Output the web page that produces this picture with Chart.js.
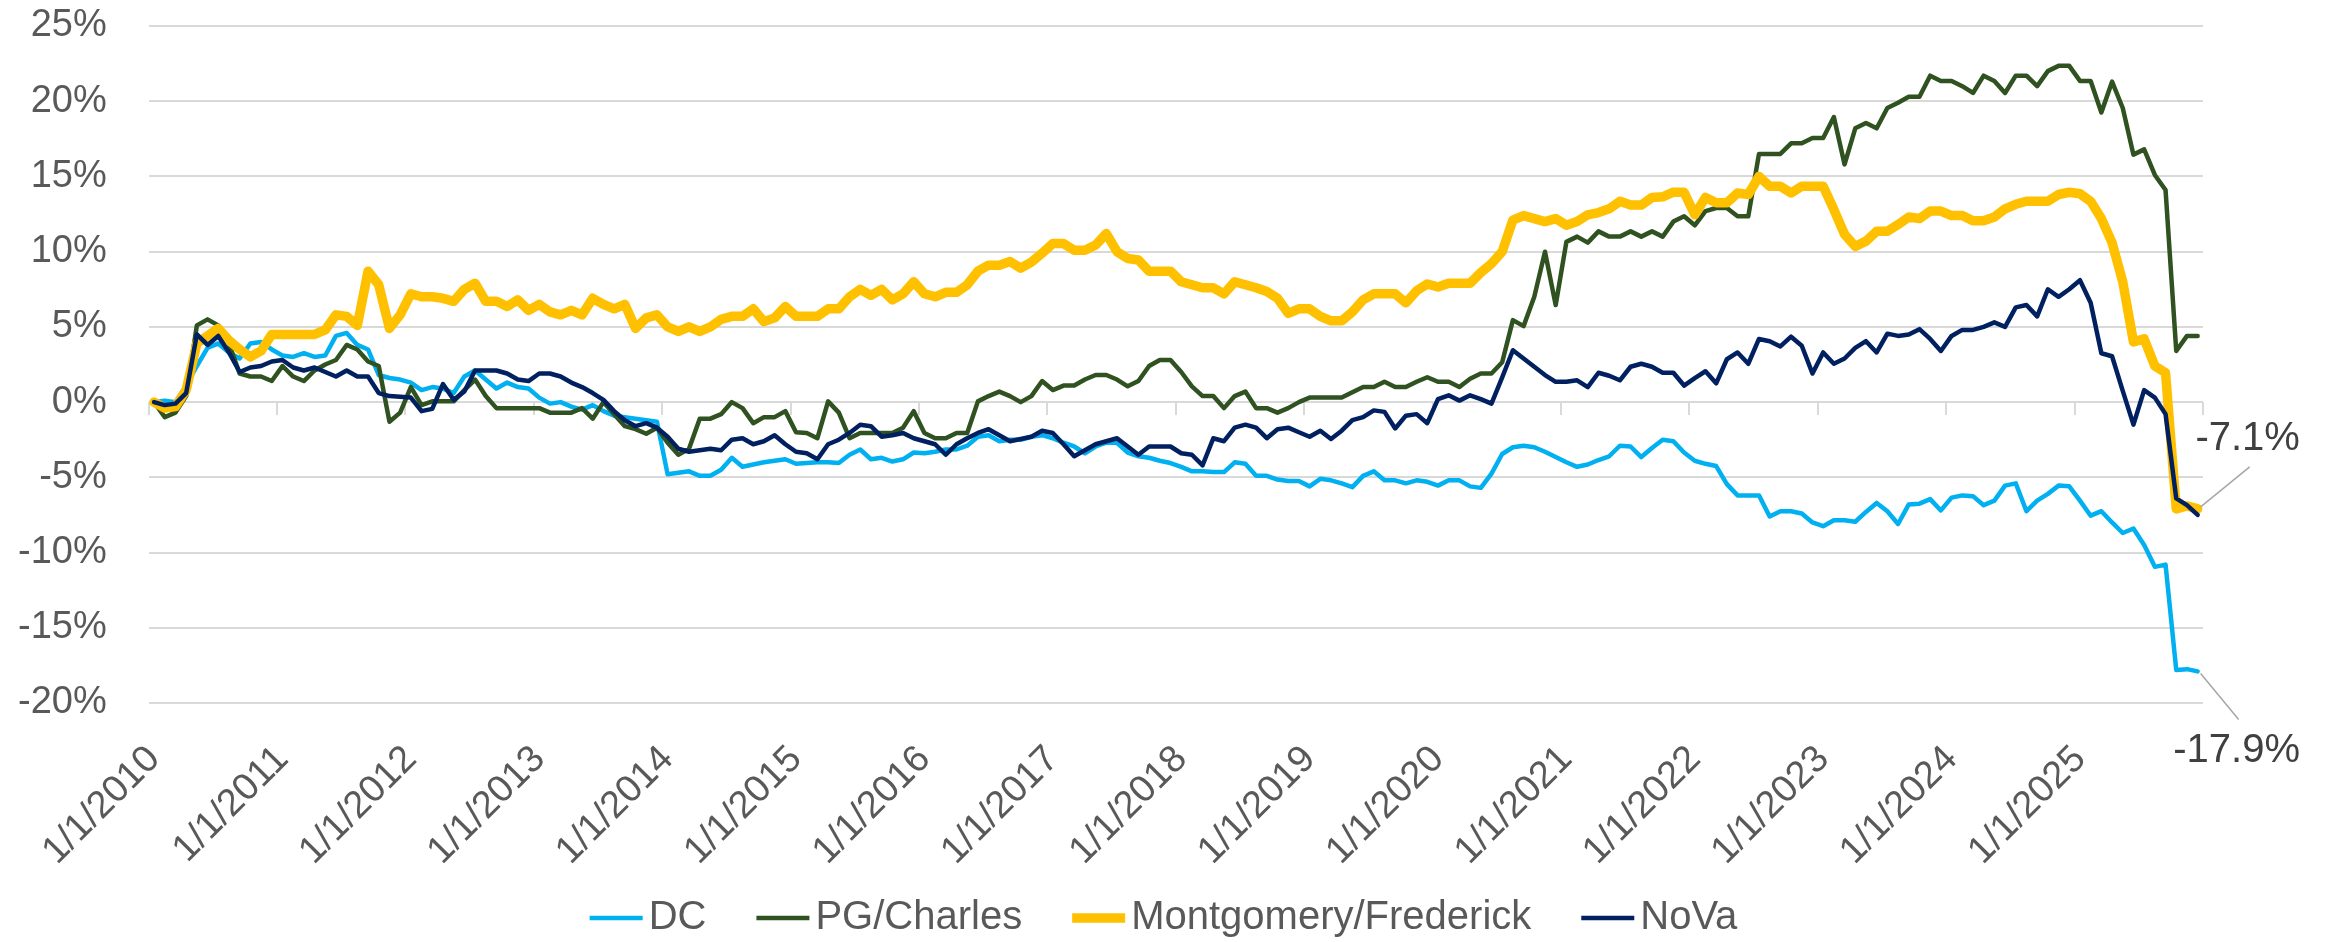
<!DOCTYPE html>
<html>
<head>
<meta charset="utf-8">
<script src="https://cdn.jsdelivr.net/npm/chart.js@4.4.1/dist/chart.umd.min.js"></script>
<style>
  body { margin: 0; background: #fff; }
</style>
</head>
<body>
<canvas id="chart" width="2327" height="942"></canvas>
<script>
// monthly % change since Jan 2010, one row per year
const years = [2010, 2011, 2012, 2013, 2014, 2015, 2016, 2017, 2018, 2019, 2020, 2021, 2022, 2023, 2024, 2025];

const dc = [
  0, 0.1, 0.0, 1.1, 2.4, 3.6, 3.9, 3.3, 2.9, 3.9, 4.0, 3.5,
  3.1, 3.0, 3.25, 3.0, 3.1, 4.4, 4.6, 3.8, 3.5, 1.8, 1.6, 1.5,
  1.3, 0.8, 1.0, 0.9, 0.6, 1.7, 2.1, 1.5, 0.9, 1.3, 1.0, 0.9,
  0.3, -0.1, 0.0, -0.3, -0.5, -0.2, -0.6, -0.9, -1.0, -1.1, -1.2, -1.3,
  -4.8, -4.7, -4.6, -4.9, -4.9, -4.5, -3.7, -4.3, -4.15, -4.0, -3.9, -3.8,
  -4.1, -4.05, -4.0, -4.0, -4.05, -3.5, -3.15, -3.8, -3.7, -3.95, -3.8, -3.35,
  -3.4, -3.3, -3.15, -3.15, -2.9, -2.3, -2.2, -2.6, -2.5, -2.5, -2.3, -2.2,
  -2.4, -2.7, -2.95, -3.4, -2.95, -2.7, -2.7, -3.35, -3.6, -3.7, -3.9, -4.05,
  -4.3, -4.6, -4.6, -4.65, -4.65, -4.0, -4.1, -4.9, -4.9, -5.15, -5.25, -5.25,
  -5.6, -5.1, -5.2, -5.4, -5.65, -4.9, -4.6, -5.2, -5.2, -5.4, -5.2, -5.3,
  -5.55, -5.2, -5.2, -5.6, -5.7, -4.75, -3.45, -3.0, -2.9, -3.0, -3.3, -3.65,
  -4.0, -4.3, -4.15, -3.85, -3.6, -2.9, -2.95, -3.65, -3.05, -2.5, -2.6, -3.35,
  -3.9, -4.1, -4.25, -5.45, -6.2, -6.2, -6.2, -7.6, -7.25, -7.25, -7.4, -8.0,
  -8.25, -7.85, -7.85, -7.95, -7.3, -6.7, -7.25, -8.1, -6.8, -6.75, -6.45, -7.2,
  -6.35, -6.2, -6.25, -6.85, -6.55, -5.55, -5.4, -7.25, -6.55, -6.1, -5.55, -5.6,
  -6.55, -7.55, -7.25, -8.0, -8.7, -8.4, -9.5, -10.95, -10.8, -17.8, -17.75, -17.9
];

const pgCharles = [
  0, -1.0, -0.7, 0.4, 5.1, 5.5, 5.1, 3.9, 1.9, 1.7, 1.7, 1.4,
  2.4, 1.7, 1.4, 2.1, 2.5, 2.8, 3.8, 3.5, 2.7, 2.4, -1.3, -0.7,
  1.0, -0.2, 0.05, 0.05, 0.05, 0.8, 1.5, 0.4, -0.4, -0.4, -0.4, -0.4,
  -0.4, -0.7, -0.7, -0.7, -0.4, -1.1, 0.0, -0.8, -1.6, -1.8, -2.1, -1.7,
  -2.7, -3.5, -3.1, -1.1, -1.1, -0.8, 0.0, -0.4, -1.4, -1.0, -1.0, -0.6,
  -2.0, -2.05, -2.4, 0.05, -0.7, -2.4, -2.05, -2.05, -2.05, -2.05, -1.7, -0.6,
  -2.05, -2.4, -2.4, -2.05, -2.05, 0.05, 0.4, 0.7, 0.4, 0.0, 0.4, 1.4,
  0.8, 1.1, 1.1, 1.5, 1.8, 1.8, 1.5, 1.05, 1.4, 2.4, 2.8, 2.8,
  2.0, 1.05, 0.4, 0.4, -0.4, 0.4, 0.7, -0.4, -0.4, -0.7, -0.4, 0.0,
  0.3, 0.3, 0.3, 0.3, 0.65, 1.0, 1.0, 1.35, 1.0, 1.0, 1.35, 1.65,
  1.35, 1.35, 1.0, 1.55, 1.9, 1.9, 2.65, 5.45, 5.05, 7.0, 10.0, 6.45,
  10.65, 11.0, 10.6, 11.35, 11.0, 11.0, 11.35, 11.0, 11.35, 11.0, 12.0, 12.35,
  11.75, 12.7, 12.9, 12.9, 12.35, 12.35, 16.5, 16.5, 16.5, 17.2, 17.2, 17.55,
  17.55, 18.95, 15.8, 18.2, 18.55, 18.2, 19.55, 19.9, 20.3, 20.3, 21.7, 21.35,
  21.35, 21.0, 20.55, 21.7, 21.35, 20.55, 21.7, 21.7, 21.0, 22.0, 22.35, 22.35,
  21.35, 21.35, 19.25, 21.3, 19.55, 16.45, 16.8, 15.1, 14.1, 3.4, 4.4, 4.4
];

const montFred = [
  0.0, -0.4, -0.3, 0.8, 3.9, 4.4, 4.9, 4.1, 3.5, 3.0, 3.4, 4.5,
  4.5, 4.5, 4.5, 4.5, 4.8, 5.8, 5.7, 5.1, 8.7, 7.8, 4.9, 5.8,
  7.2, 7.0, 7.0, 6.9, 6.7, 7.5, 7.9, 6.7, 6.7, 6.35, 6.8, 6.1,
  6.5, 6.0, 5.8, 6.1, 5.8, 6.9, 6.5, 6.2, 6.5, 4.9, 5.6, 5.8,
  5.0, 4.7, 5.0, 4.7, 5.0, 5.5, 5.7, 5.7, 6.2, 5.35, 5.6, 6.35,
  5.7, 5.7, 5.7, 6.2, 6.2, 7.0, 7.5, 7.1, 7.5, 6.8, 7.2, 8.0,
  7.2, 7.0, 7.3, 7.3, 7.8, 8.7, 9.1, 9.1, 9.35, 8.9, 9.3, 9.9,
  10.55, 10.55, 10.1, 10.1, 10.45, 11.2, 10.0, 9.55, 9.45, 8.7, 8.7, 8.7,
  8.0, 7.8, 7.6, 7.6, 7.2, 8.0, 7.8, 7.6, 7.35, 6.9, 5.9, 6.2,
  6.2, 5.7, 5.4, 5.4, 6.0, 6.8, 7.2, 7.2, 7.2, 6.6, 7.4, 7.85,
  7.65, 7.9, 7.9, 7.9, 8.6, 9.2, 10.0, 12.1, 12.4, 12.2, 12.0, 12.2,
  11.75, 12.0, 12.45, 12.6, 12.85, 13.35, 13.1, 13.1, 13.6, 13.65, 13.95, 13.95,
  12.45, 13.6, 13.25, 13.25, 13.9, 13.8, 15.0, 14.35, 14.35, 13.9, 14.35, 14.35,
  14.35, 12.8, 11.15, 10.35, 10.7, 11.35, 11.35, 11.8, 12.3, 12.2, 12.7, 12.7,
  12.4, 12.4, 12.05, 12.05, 12.3, 12.85, 13.15, 13.35, 13.35, 13.35, 13.8, 13.95,
  13.85, 13.35, 12.2, 10.6, 8.0, 4.0, 4.2, 2.4, 1.95, -7.1, -6.9, -7.1
];

const nova = [
  0, -0.2, -0.1, 0.6, 4.5, 3.8, 4.4, 3.3, 2.0, 2.3, 2.4, 2.7,
  2.8, 2.3, 2.1, 2.3, 2.0, 1.7, 2.1, 1.7, 1.7, 0.6, 0.4, 0.35,
  0.3, -0.6, -0.45, 1.2, 0.15, 0.7, 2.1, 2.1, 2.1, 1.9, 1.5, 1.4,
  1.9, 1.9, 1.7, 1.3, 1.0, 0.6, 0.15, -0.6, -1.2, -1.6, -1.4, -1.7,
  -2.3, -3.1, -3.3, -3.2, -3.1, -3.2, -2.5, -2.4, -2.8, -2.6, -2.2, -2.8,
  -3.3, -3.4, -3.8, -2.8, -2.5, -2.05, -1.5, -1.6, -2.3, -2.2, -2.05, -2.4,
  -2.6, -2.8, -3.5, -2.8, -2.4, -2.05, -1.8, -2.2, -2.6, -2.45, -2.3, -1.9,
  -2.05, -2.8, -3.6, -3.2, -2.8, -2.6, -2.4, -2.95, -3.5, -2.95, -2.95, -2.95,
  -3.4, -3.5, -4.2, -2.4, -2.6, -1.7, -1.5, -1.7, -2.4, -1.8, -1.7, -2.0,
  -2.3, -1.9, -2.45, -1.9, -1.2, -1.0, -0.55, -0.65, -1.75, -0.9, -0.8, -1.4,
  0.2, 0.45, 0.1, 0.45, 0.2, -0.1, 1.65, 3.45, 2.9, 2.35, 1.8, 1.35,
  1.35, 1.45, 1.0, 1.95, 1.75, 1.45, 2.35, 2.55, 2.35, 1.95, 1.95, 1.1,
  1.6, 2.05, 1.25, 2.85, 3.3, 2.55, 4.2, 4.05, 3.7, 4.35, 3.75, 1.9,
  3.3, 2.55, 2.9, 3.6, 4.05, 3.3, 4.55, 4.4, 4.5, 4.85, 4.2, 3.4,
  4.4, 4.8, 4.8, 5.0, 5.3, 5.0, 6.3, 6.45, 5.7, 7.5, 7.0, 7.5,
  8.1, 6.6, 3.25, 3.05, 0.75, -1.5, 0.8, 0.3, -0.8, -6.4, -6.85, -7.5
];

const yTicks = [-20, -15, -10, -5, 0, 5, 10, 15, 20, 25];

// month labels like 1/1/2010
const labels = [];
years.forEach(y => {
  for (let m = 1; m <= 12; m++) labels.push(m + '/1/' + y);
});

const FONT = '"Liberation Sans", Arial, sans-serif';
Chart.defaults.font.family = FONT;
Chart.defaults.font.size = 38;
Chart.defaults.color = '#595959';

// the two callouts at the right end of the lines
const endLabels = {
  id: 'endLabels',
  afterDatasetsDraw(chart) {
    const ctx = chart.ctx;
    const items = [
      { ds: 2, lx: 52, ly: -42, tx: 50, ty: -70 },
      { ds: 0, lx: 41, ly: 48, tx: 39, ty: 80 }
    ];
    ctx.save();
    ctx.font = '40px ' + FONT;
    ctx.fillStyle = '#404040';
    ctx.strokeStyle = '#A6A6A6';
    ctx.lineWidth = 1.5;
    ctx.textAlign = 'center';
    ctx.textBaseline = 'middle';
    items.forEach(it => {
      const pts = chart.getDatasetMeta(it.ds).data;
      const pt = pts[pts.length - 1];
      const vals = chart.data.datasets[it.ds].data;
      const v = vals[vals.length - 1];
      ctx.beginPath();
      ctx.moveTo(pt.x + 3, pt.y + (it.ly < 0 ? -2 : 2));
      ctx.lineTo(pt.x + it.lx, pt.y + it.ly);
      ctx.stroke();
      ctx.fillText(v.toFixed(1) + '%', pt.x + it.tx, pt.y + it.ty);
    });
    ctx.restore();
  }
};

// legend row under the axis labels, Excel style: short line, small gap, name
const legendRow = {
  id: 'legendRow',
  afterDraw(chart) {
    const ctx = chart.ctx;
    const lineLen = 53, textGap = 6, itemGap = 50, y = 918;
    ctx.save();
    ctx.font = '40px ' + FONT;
    ctx.textBaseline = 'middle';
    ctx.textAlign = 'left';
    const items = chart.data.datasets.map(ds => ({
      ds: ds,
      w: lineLen + textGap + ctx.measureText(ds.label).width
    }));
    const total = items.reduce((s, it) => s + it.w, 0) + itemGap * (items.length - 1);
    let x = (chart.width - total) / 2;
    items.forEach(it => {
      ctx.strokeStyle = it.ds.borderColor;
      ctx.lineWidth = it.ds.borderWidth;
      ctx.lineCap = 'butt';
      ctx.beginPath();
      ctx.moveTo(x, y);
      ctx.lineTo(x + lineLen, y);
      ctx.stroke();
      ctx.fillStyle = '#595959';
      ctx.fillText(it.ds.label, x + lineLen + textGap, y);
      x += it.w + itemGap;
    });
    ctx.restore();
  }
};

new Chart(document.getElementById('chart'), {
  type: 'line',
  data: {
    labels: labels,
    datasets: [
      { label: 'DC', data: dc, borderColor: '#00B0F0', backgroundColor: '#00B0F0', borderWidth: 4.5, order: 4 },
      { label: 'PG/Charles', data: pgCharles, borderColor: '#2F5220', backgroundColor: '#2F5220', borderWidth: 4.5, order: 3 },
      { label: 'Montgomery/Frederick', data: montFred, borderColor: '#FFC000', backgroundColor: '#FFC000', borderWidth: 9.5, order: 2 },
      { label: 'NoVa', data: nova, borderColor: '#002060', backgroundColor: '#002060', borderWidth: 4.5, order: 1 }
    ]
  },
  options: {
    responsive: false,
    devicePixelRatio: 1,
    animation: false,
    layout: { padding: { left: 18, right: 124, top: 26, bottom: 77 } },
    elements: {
      point: { radius: 0, hoverRadius: 0 },
      line: { tension: 0, borderJoinStyle: 'round', borderCapStyle: 'round', fill: false }
    },
    plugins: {
      tooltip: { enabled: false },
      legend: { display: false }
    },
    scales: {
      x: {
        type: 'category',
        offset: true,
        grid: { display: false },
        border: { display: false },
        afterFit: s => { s.paddingLeft = 0; s.paddingRight = 0; s.height = 162; },
        ticks: {
          autoSkip: false,
          minRotation: 45,
          maxRotation: 45,
          padding: 26,
          color: '#595959',
          callback: function (v) {
            const l = this.getLabelForValue(v);
            return l.startsWith('1/1/') ? l : null;
          }
        }
      },
      x2: {
        type: 'category',
        axis: 'x',
        offset: true,
        position: { y: 0 },
        border: { display: false },
        ticks: { display: false, autoSkip: false },
        grid: {
          offset: true,
          drawOnChartArea: false,
          tickLength: 13,
          lineWidth: 2,
          color: ctx => (ctx.type !== 'tick' || ctx.index % 12 === 0) ? '#D9D9D9' : 'rgba(0,0,0,0)'
        }
      },
      y: {
        min: yTicks[0],
        max: yTicks[yTicks.length - 1],
        afterBuildTicks: axis => { axis.ticks = yTicks.map(v => ({ value: v })); },
        afterFit: s => { s.paddingTop = 0; s.paddingBottom = 0; s.width -= 42; },
        border: { display: false },
        grid: { color: '#D9D9D9', lineWidth: 2, drawTicks: false },
        ticks: { padding: 42, color: '#595959', callback: v => v + '%' }
      }
    }
  },
  plugins: [endLabels, legendRow]
});
</script>
</body>
</html>
